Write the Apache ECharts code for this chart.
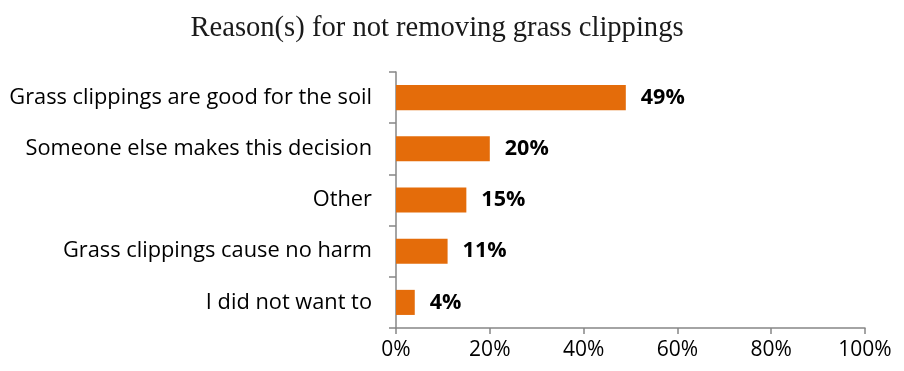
<!DOCTYPE html>
<html>
<head>
<meta charset="utf-8">
<script src="https://cdn.jsdelivr.net/npm/echarts@6/dist/echarts.min.js"></script>
<style>
  html, body { margin: 0; padding: 0; background: #fff; }
  #chart { width: 904px; height: 371px; }
</style>
</head>
<body>
<div id="chart"></div>
<script>
// categories listed bottom to top (category axis draws first item at bottom)
var reasons = [
  "I did not want to",
  "Grass clippings cause no harm",
  "Other",
  "Someone else makes this decision",
  "Grass clippings are good for the soil"
];
var shares = [4, 11, 15, 20, 49];
var xTicks = [0, 20, 40, 60, 80, 100];

var chart = echarts.init(document.getElementById("chart"));

chart.setOption({
  animation: false,
  title: {
    text: "Reason(s) for not removing grass clippings",
    left: 432,
    textAlign: "center",
    top: 9,
    textStyle: {
      fontFamily: "Liberation Serif",
      fontWeight: "normal",
      fontSize: 28.6,
      color: "#1a1a1a"
    }
  },
  grid: { left: 396, right: 39, top: 72, bottom: 43 },
  xAxis: {
    type: "value",
    min: xTicks[0],
    max: xTicks[xTicks.length - 1],
    interval: 20,
    axisLine: { show: true, lineStyle: { color: "#868686", width: 1.5 } },
    axisTick: { show: true, length: 6, lineStyle: { color: "#868686", width: 1.5 } },
    splitLine: { show: false },
    axisLabel: {
      formatter: "{value}%",
      margin: 12,
      fontFamily: "Open Sans",
      fontSize: 21,
      color: "#000"
    }
  },
  yAxis: {
    type: "category",
    data: reasons,
    axisLine: { show: true, lineStyle: { color: "#868686", width: 1.5 } },
    axisTick: { show: true, length: 7, lineStyle: { color: "#868686", width: 1.5 } },
    axisLabel: {
      margin: 24,
      fontFamily: "Open Sans",
      fontSize: 21.8,
      color: "#000"
    }
  },
  series: [{
    type: "bar",
    data: shares,
    barWidth: "49%",
    itemStyle: { color: "#E46C0A" },
    label: {
      show: true,
      position: "right",
      distance: 15,
      formatter: "{c}%",
      fontFamily: "Open Sans",
      fontWeight: "bold",
      fontSize: 21.5,
      color: "#000"
    }
  }]
});
</script>
</body>
</html>
